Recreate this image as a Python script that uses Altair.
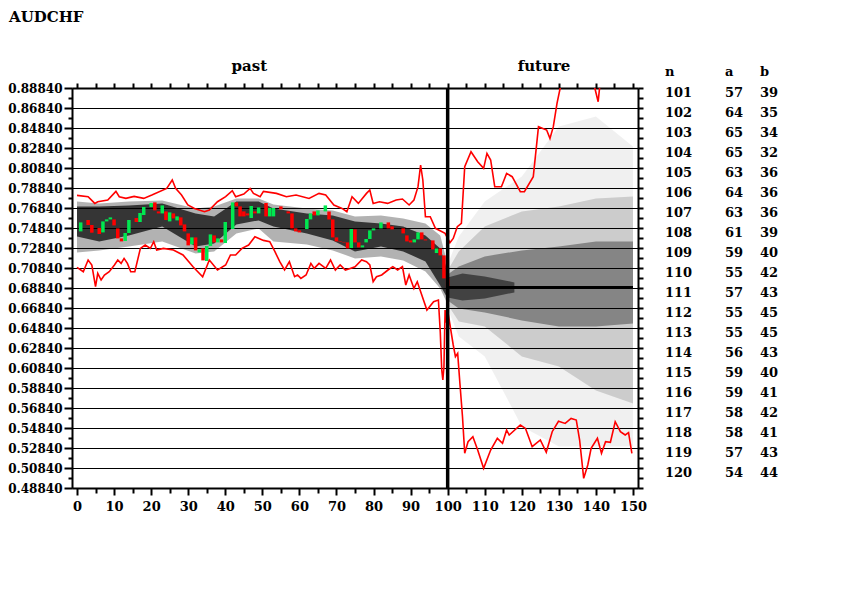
import altair as alt
import pandas as pd

# ---------------- data ----------------
# candles at x = 1..100 (open, close)
cndl_x = list(range(1, 101))
cndl_open = [0.7450, 0.7540, 0.7564, 0.7514, 0.7440, 0.7484, 0.7440, 0.7550, 0.7570, 0.7570,
             0.7480, 0.7380, 0.7354, 0.7434, 0.7564, 0.7584, 0.7544, 0.7614, 0.7694, 0.7694,
             0.7740, 0.7650, 0.7630, 0.7650, 0.7550, 0.7630, 0.7560, 0.7590, 0.7520, 0.7430,
             0.7320, 0.7390, 0.7240, 0.7280, 0.7154, 0.7304, 0.7410, 0.7340, 0.7370, 0.7334,
             0.7544, 0.7474, 0.7740, 0.7700, 0.7650, 0.7630, 0.7584, 0.7650, 0.7630, 0.7690,
             0.7734, 0.7600, 0.7600, 0.7680, 0.7700, 0.7670, 0.7650, 0.7630, 0.7480, 0.7460,
             0.7445, 0.7474, 0.7570, 0.7650, 0.7610, 0.7665, 0.7650, 0.7650, 0.7570, 0.7390,
             0.7350, 0.7345, 0.7340, 0.7284, 0.7470, 0.7340, 0.7290, 0.7340, 0.7374, 0.7460,
             0.7485, 0.7480, 0.7545, 0.7540, 0.7500, 0.7465, 0.7465, 0.7480, 0.7410, 0.7360,
             0.7340, 0.7370, 0.7440, 0.7370, 0.7360, 0.7360, 0.7234, 0.7280, 0.7210, 0.6980]
cndl_close = [0.7540, 0.7540, 0.7514, 0.7437, 0.7440, 0.7424, 0.7550, 0.7570, 0.7590, 0.7510,
              0.7380, 0.7350, 0.7434, 0.7564, 0.7564, 0.7544, 0.7634, 0.7694, 0.7694, 0.7734,
              0.7660, 0.7630, 0.7710, 0.7564, 0.7640, 0.7580, 0.7600, 0.7510, 0.7450, 0.7310,
              0.7390, 0.7260, 0.7270, 0.7160, 0.7304, 0.7420, 0.7340, 0.7380, 0.7340, 0.7544,
              0.7544, 0.7740, 0.7700, 0.7600, 0.7600, 0.7610, 0.7704, 0.7630, 0.7690, 0.7690,
              0.7600, 0.7684, 0.7684, 0.7680, 0.7670, 0.7670, 0.7630, 0.7480, 0.7450, 0.7440,
              0.7445, 0.7574, 0.7630, 0.7610, 0.7660, 0.7665, 0.7710, 0.7570, 0.7390, 0.7350,
              0.7345, 0.7340, 0.7280, 0.7474, 0.7340, 0.7290, 0.7310, 0.7374, 0.7460, 0.7480,
              0.7485, 0.7540, 0.7545, 0.7480, 0.7470, 0.7465, 0.7465, 0.7430, 0.7350, 0.7340,
              0.7370, 0.7440, 0.7370, 0.7360, 0.7360, 0.7270, 0.7280, 0.7210, 0.6980, 0.6886]

# upper red band line
up_x = [0, 3, 4.8, 5.6, 8.3, 10.5, 11.4, 13.2, 15.4, 18, 20.2, 24.2, 25.7, 26.6, 28.2, 29.9, 31.7,
        34.4, 35.7, 37.9, 40.1, 41.9, 42.8, 45, 46.7, 47.6, 49.4, 50.3, 53.8, 56.5, 59.1, 62.6,
        65.3, 67.1, 69.3, 71.5, 72.8, 74.2, 75.9, 78.1, 79, 79.9, 81.6, 83.8, 86.1, 87.8, 89.6,
        90.9, 92, 92.7, 93.3, 94, 95.3, 96.7, 99.3, 100.6, 101.5, 102.6, 103.7, 104.6, 106.3,
        108.1, 109.7, 110.6, 111.6, 112.7, 114.5, 115.9, 117.4, 119.6, 120.7, 123.1, 124.5,
        126.7, 127.6, 128.5, 129.5, 130.4, 132, 138.5, 139.7, 140.6, 141, 142, 150]
up_v = [0.7810, 0.7797, 0.7730, 0.7747, 0.7764, 0.7850, 0.7797, 0.7780, 0.7800, 0.7780, 0.7814,
        0.7880, 0.7964, 0.7880, 0.7814, 0.7714, 0.7680, 0.7647, 0.7664, 0.7747, 0.7797, 0.7857,
        0.7797, 0.7824, 0.7880, 0.7830, 0.7797, 0.7850, 0.7830, 0.7797, 0.7814, 0.7780, 0.7830,
        0.7814, 0.7714, 0.7680, 0.7647, 0.7797, 0.7730, 0.7830, 0.7864, 0.7730, 0.7747, 0.7730,
        0.7764, 0.7774, 0.7714, 0.7764, 0.7897, 0.8114, 0.7964, 0.7597, 0.7597, 0.7481, 0.7431,
        0.7337, 0.7380, 0.7497, 0.7530, 0.8097, 0.8247, 0.8147, 0.8080, 0.8230, 0.8164, 0.7897,
        0.7897, 0.8030, 0.7997, 0.7847, 0.7847, 0.7997, 0.8497, 0.8464, 0.8380, 0.8497, 0.8731,
        0.8891, 0.9300, 0.9300, 0.8884, 0.8747, 0.8891, 0.9300, 0.9300]

# lower red band line
lo_x = [0, 1.7, 3, 4, 5, 5.6, 6.5, 7.4, 8.7, 10.1, 11, 11.9, 12.7, 13.6, 14.5, 15.6, 17.1, 18.4,
        19.8, 20.7, 21.5, 23.3, 26, 28.6, 31.3, 33.9, 35.7, 37.9, 40.1, 41.4, 42.8, 44.5, 46.3,
        48, 50.3, 52, 53.4, 54.7, 56, 57.3, 58.7, 59.5, 60.4, 61.8, 63.1, 64, 65.3, 67.1, 68.4,
        69.7, 71, 72.4, 73.7, 75, 76.8, 78.1, 79, 79.9, 80.8, 82.2, 83.9, 85.2, 86.5, 87.8, 88.7,
        89.6, 90.9, 91.8, 94.4, 96.2, 97.5, 98, 98.4, 98.7, 99, 99.3, 99.6, 100.2, 101.5, 102.1,
        102.7, 103.3, 104, 104.6, 105.5, 106.8, 108.1, 109.7, 111.6, 113.4, 114.8, 115.9, 116.6,
        119.6, 121, 122.8, 125, 126.6, 128.2, 129.9, 131.7, 133.3, 134.7, 135.6, 136.7, 137.8,
        138.7, 140.4, 141.5, 142.6, 143.9, 145.2, 146.6, 147.9, 148.8, 149.7]
lo_v = [0.7090, 0.7047, 0.7164, 0.7114, 0.6897, 0.7030, 0.6964, 0.7014, 0.7047, 0.7114, 0.7164,
        0.7130, 0.7180, 0.7130, 0.7047, 0.7047, 0.7280, 0.7314, 0.7280, 0.7347, 0.7264, 0.7280,
        0.7264, 0.7214, 0.7097, 0.6997, 0.7164, 0.7064, 0.7114, 0.7214, 0.7214, 0.7280, 0.7314,
        0.7397, 0.7360, 0.7347, 0.7247, 0.7147, 0.7064, 0.7147, 0.6997, 0.7014, 0.6980, 0.7014,
        0.7130, 0.7080, 0.7130, 0.7080, 0.7164, 0.7064, 0.7114, 0.7064, 0.7080, 0.7097, 0.7164,
        0.7147, 0.7114, 0.6947, 0.6997, 0.7014, 0.7064, 0.7097, 0.7064, 0.7097, 0.6914, 0.7014,
        0.6880, 0.6947, 0.6664, 0.6747, 0.6764, 0.6447, 0.6064, 0.5964, 0.6097, 0.6664, 0.6564,
        0.6614, 0.6314, 0.6197, 0.6230, 0.5931, 0.5597, 0.5231, 0.5347, 0.5397, 0.5264, 0.5081,
        0.5264, 0.5381, 0.5331, 0.5464, 0.5414, 0.5514, 0.5480, 0.5297, 0.5364, 0.5241, 0.5447,
        0.5551, 0.5530, 0.5580, 0.5564, 0.5364, 0.4981, 0.5114, 0.5281, 0.5381, 0.5231, 0.5347,
        0.5341, 0.5547, 0.5447, 0.5414, 0.5437, 0.5231]

# past dot cloud: outer and core extents
past_x = [0, 6, 14, 23, 32, 37, 43, 49, 53, 62, 69, 75, 82, 88, 94, 98, 100]
past_outer_hi = [0.775, 0.773, 0.775, 0.776, 0.768, 0.770, 0.778, 0.778, 0.772, 0.768, 0.766,
                 0.760, 0.761, 0.758, 0.753, 0.741, 0.712]
past_core_hi = [0.770, 0.770, 0.771, 0.773, 0.763, 0.760, 0.775, 0.775, 0.768, 0.763, 0.761,
                0.755, 0.753, 0.750, 0.741, 0.728, 0.705]
past_core_lo = [0.740, 0.735, 0.741, 0.750, 0.730, 0.733, 0.752, 0.756, 0.750, 0.743, 0.736,
                0.725, 0.730, 0.725, 0.715, 0.691, 0.678]
past_outer_lo = [0.724, 0.726, 0.730, 0.735, 0.723, 0.725, 0.743, 0.748, 0.735, 0.732, 0.726,
                 0.718, 0.720, 0.716, 0.705, 0.688, 0.672]

# future dot cloud: sparse, medium, dense and darkest extents
fut_x = [100, 103, 110, 120, 130, 140, 150]
fut_sparse_hi = [0.712, 0.740, 0.775, 0.800, 0.850, 0.860, 0.830]
fut_mid_hi = [0.706, 0.725, 0.750, 0.765, 0.770, 0.778, 0.780]
fut_dense_hi = [0.702, 0.710, 0.720, 0.726, 0.730, 0.735, 0.735]
fut_dense_lo = [0.676, 0.668, 0.664, 0.656, 0.650, 0.650, 0.653]
fut_mid_lo = [0.672, 0.655, 0.650, 0.620, 0.610, 0.586, 0.573]
fut_sparse_lo = [0.668, 0.640, 0.620, 0.550, 0.530, 0.530, 0.530]
core_x = [100, 104, 110, 118]
core_hi = [0.699, 0.703, 0.700, 0.694]
core_lo = [0.679, 0.676, 0.678, 0.684]

last_close = 0.6888

# side table
tbl_n = list(range(101, 121))
tbl_a = [57, 64, 65, 65, 63, 64, 63, 61, 59, 55, 57, 55, 55, 56, 59, 59, 58, 58, 57, 54]
tbl_b = [39, 35, 34, 32, 36, 36, 36, 39, 40, 42, 43, 45, 45, 43, 40, 41, 42, 41, 43, 44]

y_ticks = [round(0.4884 + 0.01 * k, 4) for k in range(41)]
x_ticks = list(range(0, 151, 5))

# ---------------- chart ----------------
FONT = "DejaVu Serif"
GREEN = "#00e850"
RED = "#ff0000"
Y_DOM = [0.4884, 0.8884]
LBL = 12


def ysc():
    return alt.Scale(domain=Y_DOM, nice=False, zero=False)


xsc = alt.Scale(domain=[0, 150], nice=False, zero=False)
major_y = "abs(round((datum.value - 0.4884) * 100)) % 2 == 0"
major_x = "datum.value % 10 == 0"

left_axis = alt.Axis(
    orient="left", values=y_ticks, title=None,
    labelExpr=f"({major_y}) ? format(datum.value, '.5f') : ''",
    labelFont=FONT, labelFontWeight="bold", labelFontSize=LBL, labelColor="black",
    labelPadding=2, labelOverlap=False, labelFlush=False, labelBound=False,
    tickColor="black", tickWidth=2,
    tickSize={"condition": {"test": major_y, "value": 8}, "value": 4},
    domainColor="black", domainWidth=2,
    grid=True, gridColor="black", gridWidth=1,
    gridOpacity={"condition": {"test": major_y, "value": 1}, "value": 0},
)
bottom_axis = alt.Axis(
    orient="bottom", values=x_ticks, title=None, format="d",
    labelExpr=f"({major_x}) ? datum.label : ''",
    labelFont=FONT, labelFontWeight="bold", labelFontSize=LBL + 1, labelColor="black",
    labelPadding=5, labelOverlap=False, labelFlush=False,
    tickColor="black", tickWidth=2,
    tickSize={"condition": {"test": major_x, "value": 7}, "value": 5},
    domainColor="black", domainWidth=2, grid=False,
)
top_axis = alt.Axis(
    orient="top", values=x_ticks, title=None, labels=False,
    tickColor="black", tickWidth=2, tickSize=5,
    domainColor="black", domainWidth=2, grid=False,
)
right_axis = alt.Axis(
    orient="right", values=y_ticks, title=None, labels=False,
    tickColor="black", tickWidth=2, tickSize=5,
    domainColor="black", domainWidth=2, grid=False,
)

past_df = pd.DataFrame({"x": past_x, "ohi": past_outer_hi, "chi": past_core_hi,
                        "clo": past_core_lo, "olo": past_outer_lo})
fut_df = pd.DataFrame({"x": fut_x, "shi": fut_sparse_hi, "mhi": fut_mid_hi, "dhi": fut_dense_hi,
                       "dlo": fut_dense_lo, "mlo": fut_mid_lo, "slo": fut_sparse_lo})
core_df = pd.DataFrame({"x": core_x, "khi": core_hi, "klo": core_lo})


def band(df, hi, lo, opacity):
    return alt.Chart(df).mark_area(color="black", opacity=opacity, clip=True,
                                   interpolate="linear").encode(
        x=alt.X("x:Q", scale=xsc, axis=None),
        y=alt.Y(f"{hi}:Q", scale=ysc(), axis=None),
        y2=f"{lo}:Q",
    )


layers = [
    band(past_df, "ohi", "olo", 0.3),
    band(past_df, "chi", "clo", 0.7),
    band(fut_df, "shi", "slo", 0.06),
    band(fut_df, "mhi", "mlo", 0.15),
    band(fut_df, "dhi", "dlo", 0.35),
    band(core_df, "khi", "klo", 0.5),
]

cdf = pd.DataFrame({"x": cndl_x, "o": cndl_open, "c": cndl_close})
cdf["dir"] = ["up" if c >= o else "down" for o, c in zip(cdf["o"], cdf["c"])]
candles = alt.Chart(cdf).mark_bar(size=3.5).encode(
    x=alt.X("x:Q", scale=xsc, axis=bottom_axis),
    y=alt.Y("o:Q", scale=ysc(), axis=left_axis),
    y2="c:Q",
    color=alt.Color("dir:N", scale=alt.Scale(domain=["up", "down"], range=[GREEN, RED]), legend=None),
)
layers.append(candles)

up_line = alt.Chart(pd.DataFrame({"x": up_x, "v": up_v})).mark_line(
    color=RED, strokeWidth=1.6, clip=True).encode(
    x=alt.X("x:Q", scale=xsc, axis=None), y=alt.Y("v:Q", scale=ysc(), axis=None))
lo_line = alt.Chart(pd.DataFrame({"x": lo_x, "v": lo_v})).mark_line(
    color=RED, strokeWidth=1.6, clip=True).encode(
    x=alt.X("x:Q", scale=xsc, axis=None), y=alt.Y("v:Q", scale=ysc(), axis=None))
layers += [up_line, lo_line]

vline = alt.Chart(pd.DataFrame({"vx": [100]})).mark_rule(color="black", strokeWidth=3.5).encode(
    x=alt.X("vx:Q", scale=xsc, axis=None))
hline = alt.Chart(pd.DataFrame({"hx": [100], "hx2": [150], "hy": [last_close]})).mark_rule(
    color="black", strokeWidth=3).encode(
    x=alt.X("hx:Q", scale=xsc, axis=top_axis), x2="hx2:Q",
    y=alt.Y("hy:Q", scale=ysc(), axis=right_axis))
layers += [vline, hline]

title = alt.Chart(pd.DataFrame({"t": ["AUDCHF"]})).mark_text(
    font=FONT, fontWeight="bold", fontSize=15, align="left", baseline="top",
    color="black").encode(x=alt.value(-63), y=alt.value(-78), text="t:N")
sect = alt.Chart(pd.DataFrame({"lx": [46.5, 126.0], "lt": ["past", "future"]})).mark_text(
    font=FONT, fontWeight="bold", fontSize=15, align="center", baseline="alphabetic",
    color="black").encode(x=alt.X("lx:Q", scale=xsc, axis=None), y=alt.value(-17), text="lt:N")
layers += [title, sect]

tdf = pd.DataFrame({"n": tbl_n, "a": tbl_a, "b": tbl_b})
row_scale = alt.Scale(type="point", domain=tbl_n, range=[9, 389], padding=0)
for col, px in [("n", 593), ("a", 653), ("b", 688)]:
    layers.append(alt.Chart(tdf).mark_text(
        font=FONT, fontWeight="bold", fontSize=13, align="left", baseline="alphabetic",
        color="black").encode(
        x=alt.value(px), y=alt.Y("n:O", scale=row_scale, axis=None), text=f"{col}:N"))
hdr = alt.Chart(pd.DataFrame({"h": ["n", "a", "b"], "hx": [593, 653, 688]})).mark_text(
    font=FONT, fontWeight="bold", fontSize=13, align="left", baseline="alphabetic",
    color="black").encode(x=alt.X("hx:Q", scale=None), y=alt.value(-12), text="h:N")
layers.append(hdr)

chart = alt.layer(*layers).resolve_scale(y="independent").resolve_axis(
    x="independent", y="independent").properties(
    width=566, height=400,
    autosize=alt.AutoSizeParams(type="none"),
    padding={"left": 64, "top": 80, "right": 200, "bottom": 100},
    background="white",
).configure_view(stroke=None)

chart.save("out.html", embed_options={"renderer": "svg", "actions": False})
